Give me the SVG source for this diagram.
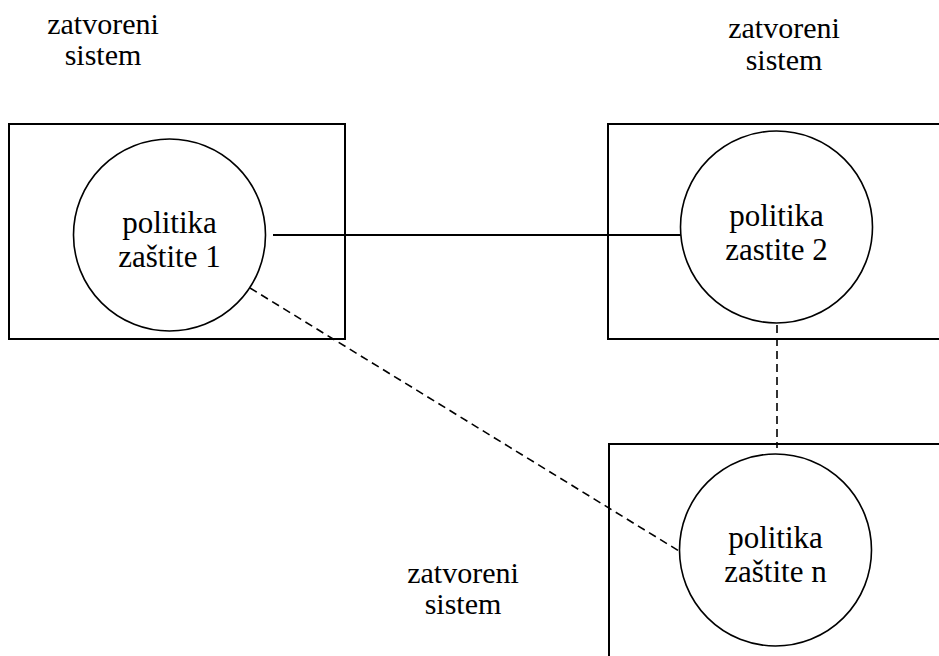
<svg xmlns="http://www.w3.org/2000/svg" width="939" height="656" viewBox="0 0 939 656">
<style>
text{font-family:'Liberation Serif','Times New Roman',serif;font-size:30px;fill:#000;text-anchor:middle}
.ct{font-size:31px}
.box{fill:none;stroke:#000;stroke-width:2}
.circ{fill:#fff;stroke:#000;stroke-width:1.6}
.solid{stroke:#000;stroke-width:1.8;fill:none}
.dash{stroke:#000;stroke-width:1.6;fill:none;stroke-dasharray:8 5}
</style>
<rect width="939" height="656" fill="#fff"/>
<g id="label1"><text x="103" y="34">zatvoreni</text><text x="103" y="65">sistem</text></g>
<g id="label2"><text x="784" y="38">zatvoreni</text><text x="784" y="70">sistem</text></g>
<g id="label3"><text x="463" y="583">zatvoreni</text><text x="463" y="614">sistem</text></g>
<g id="system1"><rect class="box" x="9" y="124" width="336" height="215"/></g>
<g id="system2"><rect class="box" x="608" y="124" width="340" height="215"/></g>
<g id="system3"><rect class="box" x="609" y="444" width="340" height="230"/></g>
<g id="connectors">
<line class="solid" x1="273" y1="235" x2="681" y2="235"/>
<line class="dash" x1="250" y1="288" x2="679" y2="551"/>
<line class="dash" x1="777" y1="325" x2="777" y2="448"/>
</g>
<g id="policy1"><circle class="circ" cx="169.5" cy="235" r="96"/><text class="ct" x="169.5" y="233">politika</text><text class="ct" x="169.5" y="267">zaštite 1</text></g>
<g id="policy2"><circle class="circ" cx="776.5" cy="227" r="96"/><text class="ct" x="776.5" y="226">politika</text><text class="ct" x="776.5" y="260">zastite 2</text></g>
<g id="policyN"><circle class="circ" cx="775.5" cy="550" r="96"/><text class="ct" x="775.5" y="548">politika</text><text class="ct" x="775.5" y="582">zaštite n</text></g>
</svg>
